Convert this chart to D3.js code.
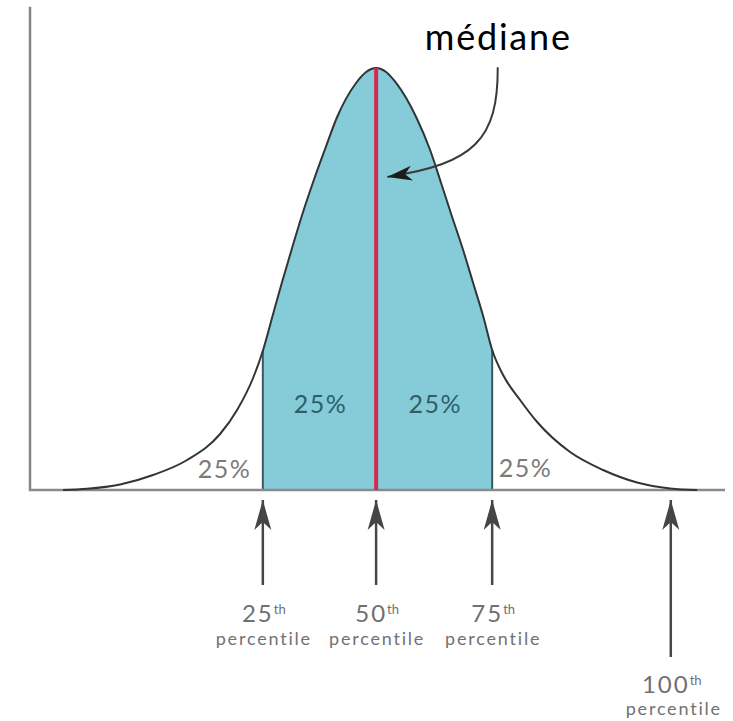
<!DOCTYPE html>
<html><head><meta charset="utf-8">
<script src="https://cdn.jsdelivr.net/npm/d3@7"></script>
<style>html,body{margin:0;padding:0;background:#fff;} svg{display:block}</style>
</head><body>
<svg id="chart" width="733" height="721"></svg>
<script>
// ---- data (x = position along axis 0..100, y = relative height 0..100)
const curveX = [4.76, 8.22, 12.97, 17.71, 22.61, 27.35, 29.8, 32.1, 33.5, 34.98, 36.27, 37.71, 39.15, 40.74, 42.46, 44.19, 46.92, 48.36, 49.8,
                51.24, 52.68, 55.56, 57.57, 59.15, 60.74, 62.32, 63.76, 65.2, 66.5, 68.07, 70.52, 72.97, 77.71, 82.46, 87.35, 92.1, 95.99];
const curveY = [0, 0.28, 1.3, 3.55, 7.11, 13.27, 18.96, 26.54, 32.94, 41.71, 49.29, 57.35, 65.17, 72.99, 80.81, 88.39, 96.45, 99.05, 100,
                99.05, 96.45, 88.39, 80.57, 72.75, 64.69, 56.87, 49.05, 41.23, 33.18, 27.25, 21.33, 16.11, 9.0, 4.74, 1.78, 0.36, 0];
const quartileX = [33.5, 66.5];          // 25th and 75th percentile
const medianX = 49.8;                    // 50th percentile
const markerX = [33.5, 49.8, 66.5, 92.2];
const markerNumbers = ["25", "50", "75", "100"];
const markerSuffix = ["th", "th", "th", "th"];
const markerWord = ["percentile", "percentile", "percentile", "percentile"];
const shareLabels = ["25%", "25%", "25%", "25%"];
const shareX = [28.0, 41.8, 58.3, 71.3];
const shareY = [2.8, 18.3, 18.3, 3.1];
const medianLabel = "médiane";

// ---- layout
const x = d3.scaleLinear().domain([0, 100]).range([30, 725]);
const y = d3.scaleLinear().domain([0, 100]).range([490, 68]);
const svg = d3.select("#chart");
const pts = curveX.map((v, i) => [v, curveY[i]]);

const defs = svg.append("defs");
defs.append("clipPath").attr("id", "mid")
  .append("rect")
  .attr("x", x(quartileX[0])).attr("y", 0)
  .attr("width", x(quartileX[1]) - x(quartileX[0])).attr("height", y(0));

function marker(id, len, half, notch, color) {
  defs.append("marker").attr("id", id)
    .attr("markerUnits", "userSpaceOnUse")
    .attr("viewBox", `${-len - 1} ${-half - 1} ${len + 2} ${2 * half + 2}`)
    .attr("refX", 0).attr("refY", 0)
    .attr("markerWidth", len + 2).attr("markerHeight", 2 * half + 2)
    .attr("orient", "auto")
    .append("path")
    .attr("d", `M0,0 L${-len},${-half} L${-notch},0 L${-len},${half} Z`)
    .attr("fill", color);
}
marker("headUp", 30, 8.5, 22, "#454545");
marker("headMed", 25, 7.5, 18, "#1c1c1c");

// shaded middle area
const area = d3.area().x(d => x(d[0])).y0(y(0)).y1(d => y(d[1])).curve(d3.curveMonotoneX);
svg.append("path").datum(pts).attr("d", area)
  .attr("fill", "#86ccd8").attr("clip-path", "url(#mid)");

// quartile edges
svg.selectAll("line.q").data(quartileX).join("line").attr("class", "q")
  .attr("x1", d => x(d)).attr("x2", d => x(d))
  .attr("y1", y(0)).attr("y2", d => y(curveY[curveX.indexOf(d)]))
  .attr("stroke", "#3b5962").attr("stroke-width", 2);

// axes
svg.append("line").attr("x1", x(0)).attr("x2", x(0)).attr("y1", y(0) + 1).attr("y2", y(114.5))
  .attr("stroke", "#858585").attr("stroke-width", 2.5);
svg.append("line").attr("x1", x(0) - 1).attr("x2", x(100)).attr("y1", y(0)).attr("y2", y(0))
  .attr("stroke", "#8a8a8a").attr("stroke-width", 2.5);

// curve
const line = d3.line().x(d => x(d[0])).y(d => y(d[1])).curve(d3.curveMonotoneX);
svg.append("path").datum(pts).attr("d", line)
  .attr("fill", "none").attr("stroke", "#2f3638").attr("stroke-width", 2);

// median line
svg.append("line").attr("x1", x(medianX)).attr("x2", x(medianX))
  .attr("y1", y(0)).attr("y2", y(100))
  .attr("stroke", "#d22b4d").attr("stroke-width", 4);

// share labels
svg.selectAll("text.share").data(shareLabels).join("text").attr("class", "share")
  .attr("x", (d, i) => x(shareX[i])).attr("y", (d, i) => y(shareY[i]))
  .attr("text-anchor", "middle")
  .attr("font-family", "Lato, sans-serif").attr("font-size", 25)
  .attr("letter-spacing", 1.5)
  .attr("fill", (d, i) => (i === 0 || i === 3) ? "#7b7b7b" : "#2e5f69")
  .text(d => d);

// médiane label + arrow
svg.append("text").attr("x", x(56.8)).attr("y", y(104.3))
  .attr("font-family", "Lato, 'Open Sans', sans-serif").attr("font-size", 36)
  .attr("letter-spacing", 1.8)
  .attr("fill", "#000").text(medianLabel);
const p0 = [67.3, 100.2], c1 = [67.35, 83.2], c2 = [64.0, 77.3], p1 = [51.4, 74.2];
svg.append("path")
  .attr("d", `M${x(p0[0])},${y(p0[1])} C${x(c1[0])},${y(c1[1])} ${x(c2[0])},${y(c2[1])} ${x(p1[0])},${y(p1[1])}`)
  .attr("fill", "none").attr("stroke", "#3a3a3a").attr("stroke-width", 2)
  .attr("marker-end", "url(#headMed)");

// percentile arrows and labels
const arrowTip = y(0) + 10;
const g = svg.selectAll("g.pm").data(markerX).join("g").attr("class", "pm");
g.append("line")
  .attr("x1", d => x(d)).attr("x2", d => x(d))
  .attr("y1", (d, i) => i === 3 ? 657 : 585).attr("y2", arrowTip)
  .attr("stroke", "#474747").attr("stroke-width", 2.5)
  .attr("marker-end", "url(#headUp)");
const t1 = g.append("text")
  .attr("x", d => x(d) + 1).attr("y", (d, i) => i === 3 ? 693 : 622)
  .attr("text-anchor", "middle")
  .attr("font-family", "Lato, sans-serif").attr("fill", "#707070");
t1.append("tspan").attr("font-size", 24).attr("letter-spacing", 2).text((d, i) => markerNumbers[i]);
t1.append("tspan").attr("font-size", 13).attr("dy", -8).text((d, i) => markerSuffix[i]);
g.append("text")
  .attr("x", (d, i) => x(d) + (i === 3 ? 3 : 1)).attr("y", (d, i) => i === 3 ? 715 : 645)
  .attr("text-anchor", "middle")
  .attr("font-family", "Lato, sans-serif").attr("font-size", 18).attr("letter-spacing", 1.8)
  .attr("fill", "#727272")
  .text((d, i) => markerWord[i]);
</script>
</body></html>
